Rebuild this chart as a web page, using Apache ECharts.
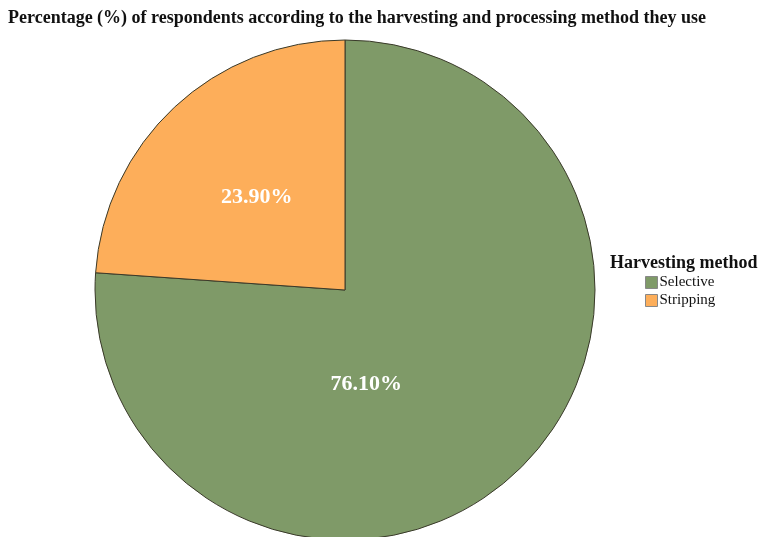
<!DOCTYPE html>
<html>
<head>
<meta charset="utf-8">
<script src="https://cdn.jsdelivr.net/npm/echarts@6/dist/echarts.min.js"></script>
<style>
  html, body { margin: 0; padding: 0; background: #fff; }
  #chart { width: 760px; height: 537px; }
</style>
</head>
<body>
<div id="chart"></div>
<script>
// Harvesting methods and share of respondents (%)
const categories = ['Selective', 'Stripping'];
const percentages = [76.10, 23.90];
const colors = ['#7f9a68', '#fdae5a'];

const serif = '"Liberation Serif", "DejaVu Serif", serif';

// the large slice's label sits closer to the vertical through the centre
const labelOffsets = [[-66, 1], [-1, 1]];

const chart = echarts.init(document.getElementById('chart'));

chart.setOption({
  backgroundColor: '#ffffff',
  animation: false,
  title: [
    {
      text: 'Percentage (%) of respondents according to the harvesting and processing method they use',
      left: 3,
      top: 4,
      textStyle: { fontFamily: serif, fontWeight: 'bold', fontSize: 18, color: '#111' }
    },
    {
      text: 'Harvesting method',
      left: 605,
      top: 249,
      textStyle: { fontFamily: serif, fontWeight: 'bold', fontSize: 18, color: '#111' }
    }
  ],
  legend: {
    orient: 'vertical',
    left: 640,
    top: 270,
    icon: 'rect',
    itemWidth: 12,
    itemHeight: 12,
    itemGap: 3,
    data: categories,
    textStyle: { fontFamily: serif, fontSize: 15, color: '#111', padding: [0, 0, 0, -3] },
    itemStyle: { borderColor: '#888', borderWidth: 1 }
  },
  series: [
    {
      type: 'pie',
      center: [345, 290],
      radius: 250,
      startAngle: 90,
      clockwise: true,
      avoidLabelOverlap: false,
      itemStyle: { borderColor: '#3a3a2a', borderWidth: 1 },
      label: {
        show: true,
        position: 'inside',
        formatter: p => p.value.toFixed(2) + '%',
        fontFamily: serif,
        fontWeight: 'bold',
        fontSize: 22,
        color: '#ffffff'
      },
      labelLine: { show: false },
      emphasis: { disabled: true },
      data: categories.map((name, i) => ({
        name,
        value: percentages[i],
        itemStyle: { color: colors[i] },
        label: { offset: labelOffsets[i] }
      }))
    }
  ]
});
</script>
</body>
</html>
